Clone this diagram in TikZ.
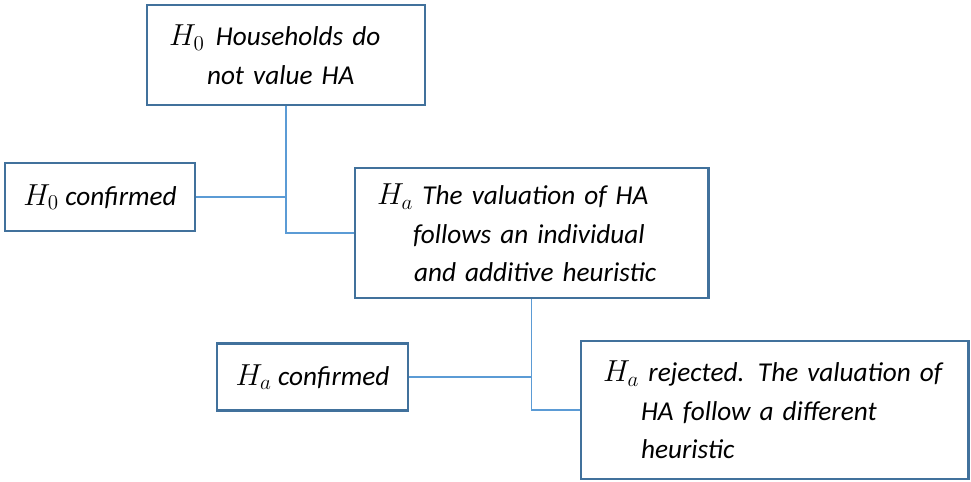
\documentclass[tikz,border=0pt]{standalone}
\usepackage{fontspec}
\setmainfont{Carlito}
\usetikzlibrary{positioning}

\definecolor{boxblue}{RGB}{65,113,156}
\definecolor{lineblue}{RGB}{91,155,213}

% hypothesis symbol, a bit larger than the text
\newcommand{\hyp}[1]{{\fontsize{17.5}{21.6}\selectfont$H_{#1}$}}

\tikzset{
    hypbox/.style={draw=boxblue, line width=1.7pt, align=left, inner xsep=0.44cm,
        font=\fontsize{15.5}{22}\selectfont\itshape},
    link/.style={draw=lineblue, line width=0.9pt}
}

\begin{document}
\begin{tikzpicture}

            % fix the canvas to the size of the figure
            \useasboundingbox (0,0) rectangle (19.42,-9.64);

            % Null hypothesis at the top
            \node[hypbox, text width=4.68cm, minimum height=2.00cm] (h0) at (5.72,-1.10)
                {\hyp{0}\hspace{0.22cm}Households do\\\hspace*{0.76cm}not value HA};

            % H0 confirmed on the left
            \node[hypbox, inner xsep=0pt, minimum width=3.80cm, minimum height=1.36cm] (h0conf) at (2.00,-3.94)
                {\hyp{0} confirmed};

            % Alternative hypothesis in the middle
            \node[hypbox, text width=6.18cm, minimum height=2.60cm] (ha) at (10.63,-4.66)
                {\hyp{a} The valuation of HA\\\hspace*{0.72cm}follows an individual\\\hspace*{0.74cm}and additive heuristic};

            % Ha confirmed
            \node[hypbox, inner xsep=0pt, minimum width=3.82cm, minimum height=1.34cm] (haconf) at (6.25,-7.54)
                {\hyp{a} confirmed};

            % Ha rejected
            \node[hypbox, text width=6.86cm, minimum height=2.76cm] (harej) at (15.49,-8.20)
                {\hyp{a} rejected. The valuation of\\\hspace*{0.76cm}HA follow a different\\\hspace*{0.76cm}heuristic};

            % Connectors of the first split
            \draw[link] (h0.south) |- (ha.west);
            \draw[link] (h0conf.east) -- (h0conf.east -| h0.south);

            % Connectors of the second split
            \draw[link] (ha.south) |- (harej.west);
            \draw[link] (haconf.east) -- (haconf.east -| ha.south);
        \end{tikzpicture}
\end{document}
